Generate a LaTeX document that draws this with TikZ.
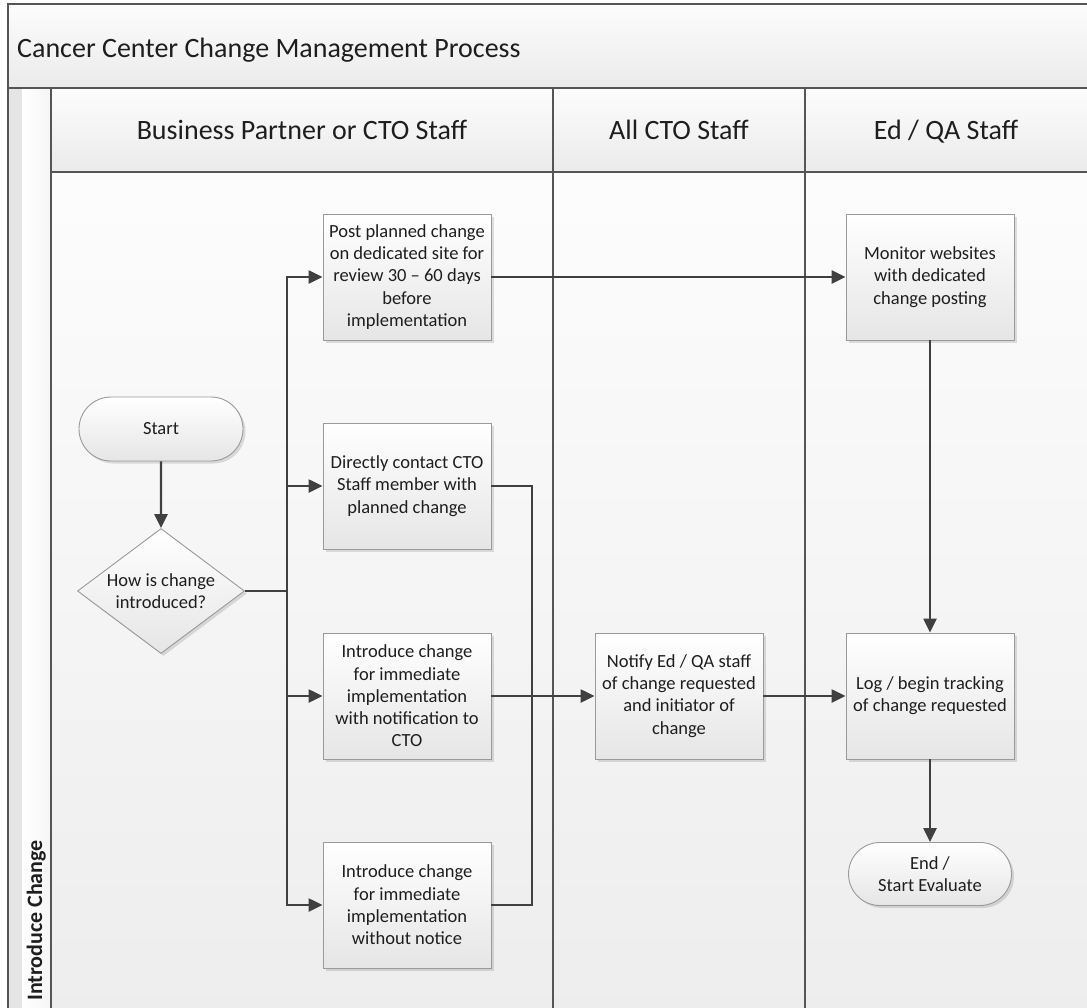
\documentclass[tikz,border=0pt]{standalone}
\usepackage{fontspec}
\setmainfont{Carlito}
\usetikzlibrary{arrows.meta,shapes.geometric,shapes.misc,shadows}

\definecolor{lanegray}{HTML}{555555}
\definecolor{linegray}{HTML}{404040}
\definecolor{boxedge}{HTML}{9A9A9A}
\definecolor{txt}{HTML}{1E1E1E}

\tikzset{
  lane/.style={draw=lanegray, line width=1.8pt},
  bandtext/.style={inner sep=0pt, text=txt, font=\fontsize{28}{33}\selectfont},
  procbox/.style={rectangle, draw=boxedge, line width=0.9pt,
    top color=white, bottom color=black!10,
    minimum width=168pt, minimum height=126pt, inner sep=2pt,
    align=center, text=txt, font=\fontsize{18.5}{22.3}\selectfont,
    drop shadow={shadow xshift=2.5pt, shadow yshift=-2.5pt, fill=black, opacity=0.12}},
  termbox/.style={procbox, rounded rectangle, minimum height=64pt},
  decbox/.style={procbox, diamond, aspect=1.34, minimum width=167pt,
    minimum height=125pt, inner sep=0pt},
  flowline/.style={draw=linegray, line width=2.4pt},
  flow/.style={flowline, -{Triangle[length=14pt,width=13pt]}},
}

\begin{document}
\begin{tikzpicture}[x=1pt,y=-1pt]
\useasboundingbox (0,0) rectangle (1087,1007);
\clip (0,0) rectangle (1087,1007);

% pool background: title band, lane headers, body and lane strip
\shade[top color=black!1, bottom color=black!7] (51,172) rectangle (1095,1015);
\shade[top color=black!1, bottom color=black!8] (8,4) rectangle (1095,88);
\shade[top color=black!1, bottom color=black!8] (51,88) rectangle (1095,172);
\fill[black!10] (8,88) rectangle (22,1015);
\shade[left color=white, right color=black!4] (22,88) rectangle (51,1015);

% pool and lane borders
\draw[lane] (8,1015) -- (8,4) -- (1095,4);
\draw[lane] (8,88) -- (1095,88);
\draw[lane] (51,172) -- (1095,172);
\draw[lane] (51,88) -- (51,1015);
\draw[lane] (553,88) -- (553,1015);
\draw[lane] (805,88) -- (805,1015);

% titles
\node[bandtext, anchor=base west] (title) at (17,57) {Cancer Center Change Management Process};
\node[bandtext, anchor=base] (lane1) at (302,139) {Business Partner or CTO Staff};
\node[bandtext, anchor=base] (lane2) at (679,139) {All CTO Staff};
\node[bandtext, anchor=base] (lane3) at (946,139) {Ed / QA Staff};
\node[inner sep=0pt, text=txt, font=\fontsize{22}{26}\selectfont\bfseries,
      rotate=90, anchor=base west] (phase) at (42,1001) {Introduce Change};

% process steps
\node[termbox] (start) at (161,429) {Start};
\node[decbox] (dec) at (161,591) {How is change\\introduced?};
\node[procbox] (post) at (407,277) {Post planned change\\on dedicated site for\\review 30 -- 60 days\\before\\implementation};
\node[procbox] (direct) at (407,486) {Directly contact CTO\\Staff member with\\planned change};
\node[procbox] (notif) at (407,696) {Introduce change\\for immediate\\implementation\\with notification to\\CTO};
\node[procbox] (nonotice) at (407,905) {Introduce change\\for immediate\\implementation\\without notice};
\node[procbox] (notify) at (679,696) {Notify Ed / QA staff\\of change requested\\and initiator of\\change};
\node[procbox] (monitor) at (930,277) {Monitor websites\\with dedicated\\change posting};
\node[procbox] (log) at (930,696) {Log / begin tracking\\of change requested};
\node[termbox, minimum width=167pt, minimum height=63pt] (end) at (930,874) {End /\\Start Evaluate};

% junction points
\coordinate (trunk) at (287,591);
\coordinate (merge) at (532,696);

% connectors
\draw[flow] (start) -- (dec);
\draw[flowline] (dec.east) -- (trunk);
\draw[flow] (trunk) |- (post.west);
\draw[flow] (trunk) |- (direct.west);
\draw[flow] (trunk) |- (notif.west);
\draw[flow] (trunk) |- (nonotice.west);
\draw[flow] (post) -- (monitor);
\draw[flowline] (direct.east) -| (merge);
\draw[flowline] (nonotice.east) -| (merge);
\draw[flow] (notif) -- (notify);
\draw[flow] (notify) -- (log);
\draw[flow] (monitor) -- (log);
\draw[flow] (log) -- (end);
\end{tikzpicture}
\end{document}
